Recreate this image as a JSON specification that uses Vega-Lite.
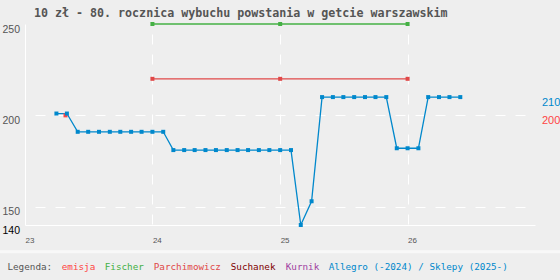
{
  "$schema": "https://vega.github.io/schema/vega-lite/v6.json",
  "width": 510,
  "height": 201,
  "autosize": {"type": "none"},
  "padding": {"left": 25, "top": 24, "right": 25, "bottom": 55},
  "background": "#eeeeee",
  "title": {
    "text": "10 zł - 80. rocznica wybuchu powstania w getcie warszawskim",
    "anchor": "start", "frame": "group", "dx": 9, "dy": 15, "offset": 8, "baseline": "alphabetic",
    "font": "DejaVu Sans Mono", "fontSize": 11.65, "fontWeight": "bold", "color": "#555555"
  },
  "config": {"view": {"stroke": null}},
  "datasets": {
    "prices": [
      {"date": "2023-04-27", "price": 200, "series": "emisja"},
      {"date": "2024-01-01", "price": 250, "series": "Fischer"},
      {"date": "2025-01-01", "price": 250, "series": "Fischer"},
      {"date": "2026-01-01", "price": 250, "series": "Fischer"},
      {"date": "2024-01-01", "price": 220, "series": "Parchimowicz"},
      {"date": "2025-01-01", "price": 220, "series": "Parchimowicz"},
      {"date": "2026-01-01", "price": 220, "series": "Parchimowicz"},
      {"date": "2023-04-01", "price": 201, "series": "Allegro (-2024) / Sklepy (2025-)"},
      {"date": "2023-05-01", "price": 201, "series": "Allegro (-2024) / Sklepy (2025-)"},
      {"date": "2023-06-01", "price": 191, "series": "Allegro (-2024) / Sklepy (2025-)"},
      {"date": "2023-07-01", "price": 191, "series": "Allegro (-2024) / Sklepy (2025-)"},
      {"date": "2023-08-01", "price": 191, "series": "Allegro (-2024) / Sklepy (2025-)"},
      {"date": "2023-09-01", "price": 191, "series": "Allegro (-2024) / Sklepy (2025-)"},
      {"date": "2023-10-01", "price": 191, "series": "Allegro (-2024) / Sklepy (2025-)"},
      {"date": "2023-11-01", "price": 191, "series": "Allegro (-2024) / Sklepy (2025-)"},
      {"date": "2023-12-01", "price": 191, "series": "Allegro (-2024) / Sklepy (2025-)"},
      {"date": "2024-01-01", "price": 191, "series": "Allegro (-2024) / Sklepy (2025-)"},
      {"date": "2024-02-01", "price": 191, "series": "Allegro (-2024) / Sklepy (2025-)"},
      {"date": "2024-03-01", "price": 181, "series": "Allegro (-2024) / Sklepy (2025-)"},
      {"date": "2024-04-01", "price": 181, "series": "Allegro (-2024) / Sklepy (2025-)"},
      {"date": "2024-05-01", "price": 181, "series": "Allegro (-2024) / Sklepy (2025-)"},
      {"date": "2024-06-01", "price": 181, "series": "Allegro (-2024) / Sklepy (2025-)"},
      {"date": "2024-07-01", "price": 181, "series": "Allegro (-2024) / Sklepy (2025-)"},
      {"date": "2024-08-01", "price": 181, "series": "Allegro (-2024) / Sklepy (2025-)"},
      {"date": "2024-09-01", "price": 181, "series": "Allegro (-2024) / Sklepy (2025-)"},
      {"date": "2024-10-01", "price": 181, "series": "Allegro (-2024) / Sklepy (2025-)"},
      {"date": "2024-11-01", "price": 181, "series": "Allegro (-2024) / Sklepy (2025-)"},
      {"date": "2024-12-01", "price": 181, "series": "Allegro (-2024) / Sklepy (2025-)"},
      {"date": "2025-01-01", "price": 181, "series": "Allegro (-2024) / Sklepy (2025-)"},
      {"date": "2025-02-01", "price": 181, "series": "Allegro (-2024) / Sklepy (2025-)"},
      {"date": "2025-03-01", "price": 140, "series": "Allegro (-2024) / Sklepy (2025-)"},
      {"date": "2025-04-01", "price": 153, "series": "Allegro (-2024) / Sklepy (2025-)"},
      {"date": "2025-05-01", "price": 210, "series": "Allegro (-2024) / Sklepy (2025-)"},
      {"date": "2025-06-01", "price": 210, "series": "Allegro (-2024) / Sklepy (2025-)"},
      {"date": "2025-07-01", "price": 210, "series": "Allegro (-2024) / Sklepy (2025-)"},
      {"date": "2025-08-01", "price": 210, "series": "Allegro (-2024) / Sklepy (2025-)"},
      {"date": "2025-09-01", "price": 210, "series": "Allegro (-2024) / Sklepy (2025-)"},
      {"date": "2025-10-01", "price": 210, "series": "Allegro (-2024) / Sklepy (2025-)"},
      {"date": "2025-11-01", "price": 210, "series": "Allegro (-2024) / Sklepy (2025-)"},
      {"date": "2025-12-01", "price": 182, "series": "Allegro (-2024) / Sklepy (2025-)"},
      {"date": "2026-01-01", "price": 182, "series": "Allegro (-2024) / Sklepy (2025-)"},
      {"date": "2026-02-01", "price": 182, "series": "Allegro (-2024) / Sklepy (2025-)"},
      {"date": "2026-03-01", "price": 210, "series": "Allegro (-2024) / Sklepy (2025-)"},
      {"date": "2026-04-01", "price": 210, "series": "Allegro (-2024) / Sklepy (2025-)"},
      {"date": "2026-05-01", "price": 210, "series": "Allegro (-2024) / Sklepy (2025-)"},
      {"date": "2026-06-01", "price": 210, "series": "Allegro (-2024) / Sklepy (2025-)"}
    ],
    "last": [
      {"series": "Allegro (-2024) / Sklepy (2025-)", "price": 210, "label": "210"},
      {"series": "emisja", "price": 200, "label": "200"}
    ]
  },
  "layer": [
    {
      "data": {"values": [{}]},
      "mark": {"type": "rule", "color": "#f8f8f8", "strokeWidth": 3, "clip": false},
      "encoding": {
        "x": {"datum": {"year": 2022, "month": 10, "date": 21, "utc": true}, "type": "temporal"},
        "x2": {"datum": {"year": 2027, "month": 3, "date": 14, "utc": true}},
        "y": {"datum": 125.3, "type": "quantitative"}
      }
    },
    {
      "data": {"name": "prices"},
      "mark": {"type": "line", "strokeWidth": 1.3, "point": {"shape": "square", "size": 16, "filled": true}},
      "encoding": {
        "x": {
          "field": "date", "type": "temporal",
          "scale": {"type": "utc", "domain": [{"year": 2023, "month": 1, "date": 1, "utc": true}, {"year": 2027, "month": 1, "date": 1, "utc": true}]},
          "axis": {
            "title": null,
            "values": [{"year": 2023, "utc": true}, {"year": 2024, "utc": true}, {"year": 2025, "utc": true}, {"year": 2026, "utc": true}],
            "labelExpr": "utcFormat(datum.value, '%y')",
            "domainColor": "white", "domainWidth": 1,
            "ticks": false, "tickSize": 0,
            "labelAlign": "left", "labelBaseline": "top", "labelPadding": 11,
            "labelFont": "Liberation Sans", "labelFontSize": 8, "labelColor": "#555555",
            "labelFlush": false, "labelOverlap": false,
            "grid": true, "gridColor": "white", "gridDash": [10, 10], "gridDashOffset": 10,
            "gridOpacity": {"condition": {"test": "utcyear(datum.value) > 2023", "value": 1}, "value": 0}
          }
        },
        "y": {
          "field": "price", "type": "quantitative",
          "scale": {"domain": [140, 250], "zero": false, "nice": false},
          "axis": {
            "title": null,
            "values": [140, 150, 200, 250],
            "domainColor": "white", "domainWidth": 1,
            "ticks": false, "tickSize": 0,
            "labelAlign": "left", "labelBaseline": "top", "labelPadding": 23,
            "labelFont": "Liberation Sans", "labelFontSize": 10.5,
            "labelColor": {"condition": {"test": "datum.value == 140", "value": "#000000"}, "value": "#555555"},
            "labelFlush": false, "labelOverlap": false,
            "grid": true, "gridColor": "white", "gridDash": [10, 10], "gridDashOffset": 10,
            "gridOpacity": {"condition": {"test": "datum.value == 150 || datum.value == 200", "value": 1}, "value": 0}
          }
        },
        "color": {
          "field": "series", "type": "nominal",
          "scale": {
            "domain": ["emisja", "Fischer", "Parchimowicz", "Suchanek", "Kurnik", "Allegro (-2024) / Sklepy (2025-)"],
            "range": ["#ff4444", "#44b044", "#e04848", "#800000", "#a040a0", "#0088cc"]
          },
          "legend": {
            "orient": "none", "legendX": -17.6, "legendY": 238,
            "direction": "horizontal", "columns": 6,
            "title": "Legenda:", "titleOrient": "left", "titlePadding": 0,
            "titleFont": "DejaVu Sans Mono", "titleFontSize": 9.3, "titleFontWeight": "normal", "titleColor": "#555555",
            "labelFont": "DejaVu Sans Mono", "labelFontSize": 9.3, "labelOffset": 0, "labelLimit": 400,
            "symbolSize": 0, "symbolStrokeWidth": 0, "symbolOpacity": 0,
            "columnPadding": -1, "padding": 0,
            "encode": {"labels": {"update": {"fill": {"scale": "color", "field": "value"}}}}
          }
        }
      }
    },
    {
      "data": {"name": "last"},
      "mark": {"type": "text", "align": "left", "baseline": "top", "dx": 7, "font": "Liberation Sans", "fontSize": 11},
      "encoding": {
        "x": {"datum": {"year": 2027, "month": 1, "date": 1, "utc": true}, "type": "temporal"},
        "y": {"field": "price", "type": "quantitative"},
        "text": {"field": "label"},
        "color": {"field": "series", "type": "nominal"}
      }
    }
  ]
}
